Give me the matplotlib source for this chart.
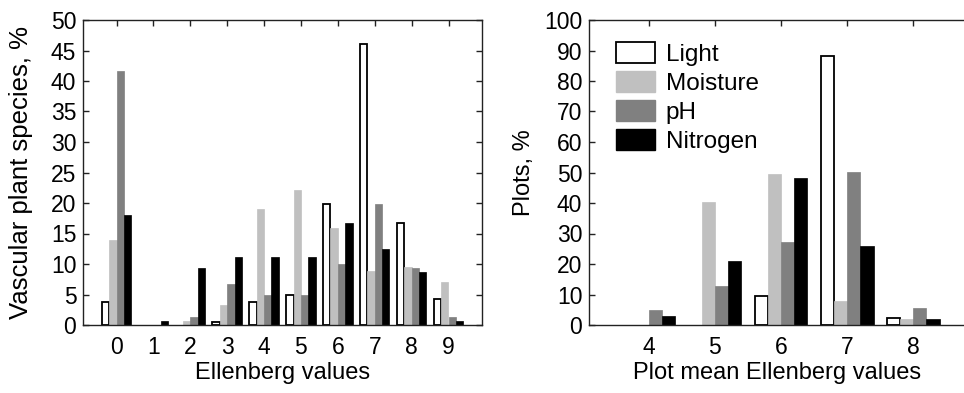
import matplotlib
matplotlib.use("Agg")
import matplotlib.pyplot as plt
import numpy as np
from matplotlib.patches import Patch

plt.rcParams['font.family'] = ['Liberation Sans', 'DejaVu Sans']

series = ["Light", "Moisture", "pH", "Nitrogen"]
colors = ["white", "#c0c0c0", "#808080", "black"]

left_cats = [0, 1, 2, 3, 4, 5, 6, 7, 8, 9]
left_light    = [3.7, 0.0, 0.0, 0.5, 3.7, 5.0, 19.9, 46.0, 16.8, 4.3]
left_moisture = [14.0, 0.0, 0.6, 3.2, 19.0, 22.2, 15.9, 8.9, 9.5, 7.0]
left_ph       = [41.7, 0.0, 1.25, 6.8, 5.0, 5.0, 10.0, 19.9, 9.4, 1.25]
left_nitrogen = [18.1, 0.65, 9.4, 11.2, 11.2, 11.2, 16.8, 12.5, 8.75, 0.6]

right_cats = [4, 5, 6, 7, 8]
right_light    = [0.0, 0.0, 9.4, 88.1, 2.4]
right_moisture = [0.0, 40.3, 49.6, 7.9, 2.0]
right_ph       = [4.9, 12.9, 27.2, 50.1, 5.5]
right_nitrogen = [3.1, 21.1, 48.2, 26.0, 2.0]

W, H = 964, 393
fig = plt.figure(figsize=(W / 100, H / 100), dpi=100)

ax1 = fig.add_axes([83.3 / W, (H - 325) / H, (481.7 - 83.3) / W, 305 / H])
ax2 = fig.add_axes([589.3 / W, (H - 325) / H, 383.4 / W, 305 / H])

bw = 0.2

def draw(ax, cats, vals):
    x = np.array(cats, dtype=float)
    for i, (v, c) in enumerate(zip(vals, colors)):
        off = (i - 1.5) * bw
        v = np.array(v, dtype=float)
        m = v > 0
        if c == "white":
            ax.bar(x[m] + off, v[m], bw, facecolor="white", edgecolor="black",
                   linewidth=1.3, zorder=2)
        else:
            ax.bar(x[m] + off, v[m], bw, facecolor=c, edgecolor=c,
                   linewidth=0.5, zorder=2)

draw(ax1, left_cats, [left_light, left_moisture, left_ph, left_nitrogen])
draw(ax2, right_cats, [right_light, right_moisture, right_ph, right_nitrogen])

ax1.set_xlim(-0.9, 9.9)
ax1.set_ylim(0, 50)
ax1.set_xticks(left_cats)
ax1.set_yticks(np.arange(0, 51, 5))

ax2.set_xlim(3.1, 8.9)
ax2.set_ylim(0, 100)
ax2.set_xticks(right_cats)
ax2.set_yticks(np.arange(0, 101, 10))

for ax in (ax1, ax2):
    for s in ax.spines.values():
        s.set_linewidth(1.0)
        s.set_color("#222222")
    ax.tick_params(axis='y', direction='in', left=True, right=True,
                   length=4, width=1.0, labelsize=16.5, pad=5, colors="#222222",
                   labelcolor="black")
    ax.tick_params(axis='x', direction='in', top=True, bottom=False,
                   labelbottom=True, length=4, width=1.0, labelsize=16.5, pad=8,
                   colors="#222222", labelcolor="black")

ax1.set_ylabel("Vascular plant species, %", fontsize=18.5)
ax1.yaxis.set_label_coords(-0.126, 0.5)
ax1.set_xlabel("Ellenberg values", fontsize=17)
ax1.xaxis.set_label_coords(0.5, -0.122)

ax2.set_ylabel("Plots, %", fontsize=17)
ax2.yaxis.set_label_coords(-0.142, 0.5)
ax2.set_xlabel("Plot mean Ellenberg values", fontsize=17)
ax2.xaxis.set_label_coords((777.5 - 589.3) / 383.4, -0.122)

handles = [Patch(facecolor="white", edgecolor="black", linewidth=1.3, label="Light"),
           Patch(facecolor="#c0c0c0", edgecolor="#c0c0c0", label="Moisture"),
           Patch(facecolor="#808080", edgecolor="#808080", label="pH"),
           Patch(facecolor="black", edgecolor="black", label="Nitrogen")]
ax2.legend(handles=handles, loc="upper left", frameon=False, fontsize=17.5,
           handlelength=1.6, handleheight=0.95, handletextpad=0.45,
           labelspacing=0.22, borderaxespad=0.5, bbox_to_anchor=(0.012, 1.0))

fig.savefig("out.png", dpi=100)
